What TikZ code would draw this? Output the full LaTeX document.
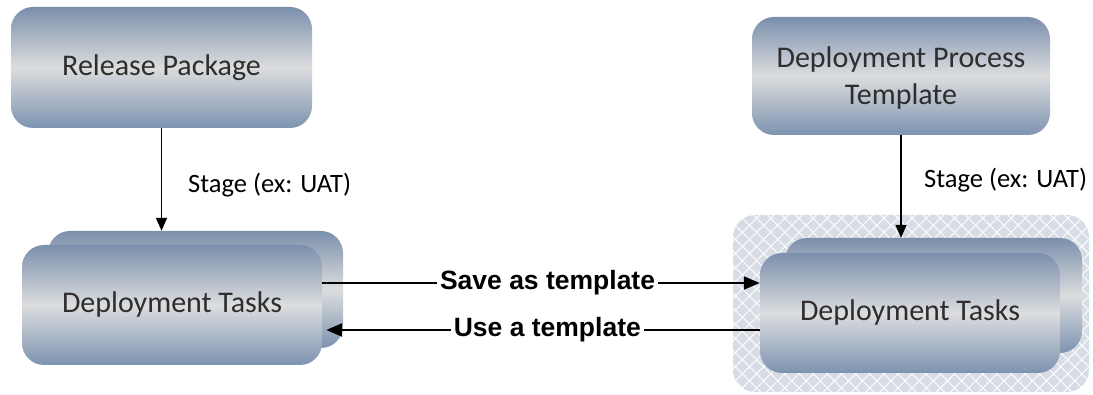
\documentclass[tikz,border=0pt]{standalone}
\usepackage{fontspec}
\setmainfont{Carlito}
\newfontfamily\arialfont{Liberation Sans}
\usetikzlibrary{arrows.meta,calc,patterns.meta}

\definecolor{boxtop}{HTML}{7B8FAC}
\definecolor{boxmid}{HTML}{DCDDDE}
\definecolor{boxbot}{HTML}{7D93B0}
\definecolor{hatchbg}{HTML}{D8DDE5}
\definecolor{boxtext}{HTML}{2E2E2E}

\tikzset{
  taskbox/.style={rectangle, rounded corners=22pt, top color=boxtop, bottom color=boxbot,
    middle color=boxmid, draw=none, text=boxtext, font=\fontsize{30}{34}\selectfont,
    align=center, inner sep=0pt},
  vlink/.style={draw=black, line width=1.5pt, -{Triangle[length=13pt,width=11pt]}},
  hlink/.style={draw=black, line width=2.4pt, -{Triangle[length=16pt,width=13pt]}},
  linklabel/.style={fill=white, inner sep=3pt, font=\arialfont\bfseries\fontsize{26.5}{30}\selectfont},
  stagelabel/.style={font=\fontsize{26.5}{30}\selectfont, text=black, anchor=west, inner sep=0pt}
}

\begin{document}
\begin{tikzpicture}[x=1pt,y=-1pt]
  \useasboundingbox (0,0) rectangle (1093,395);

  % hatched area behind the templated task set
  \fill[hatchbg, rounded corners=22pt] (733,215) rectangle (1089,392);
  \path[rounded corners=22pt, pattern={Lines[angle=45,distance=10pt,line width=0.9pt]}, pattern color=white]
    (733,215) rectangle (1089,392);
  \path[rounded corners=22pt, pattern={Lines[angle=-45,distance=10pt,line width=0.9pt]}, pattern color=white]
    (733,215) rectangle (1089,392);

  % top row
  \node[taskbox, minimum width=301pt, minimum height=121pt] (rp) at (161.5,67.5) {Release Package};
  \node[taskbox, minimum width=298pt, minimum height=118pt, text depth=-3pt] (dpt) at (901,76)
    {Deployment Process\\[3pt]Template};

  % left task stack
  \node[taskbox, minimum width=295pt, minimum height=117pt] (ldtb) at (195.5,289.5) {};
  \node[taskbox, minimum width=300pt, minimum height=120pt] (ldt) at (172,305) {Deployment Tasks};

  % right task stack
  \node[taskbox, minimum width=297pt, minimum height=115pt] (rdtb) at (933.5,295.5) {};
  \node[taskbox, minimum width=300pt, minimum height=120pt] (rdt) at (910,313) {Deployment Tasks};

  % staging links
  \draw[vlink] (rp.south) -- (rp.south |- ldtb.north);
  \node[stagelabel] (st1) at (188,185) {Stage (ex: UAT)};
  \draw[vlink] (dpt.south) -- (dpt.south |- rdtb.north);
  \node[stagelabel] (st2) at (924,180) {Stage (ex: UAT)};

  % template links
  \coordinate (s1) at ($(ldt.east)+(0,-22)$);
  \coordinate (u1) at ($(rdt.west)+(0,17)$);
  \coordinate (u2) at ($(ldt.east)+(4,25)$);
  \draw[hlink] (s1) -- (s1 -| rdt.west)
    node[linklabel, pos=0.515] (save) {Save as template};
  \draw[hlink] (u1) -- (u2)
    node[linklabel, pos=0.49] (use) {Use a template};
\end{tikzpicture}
\end{document}
